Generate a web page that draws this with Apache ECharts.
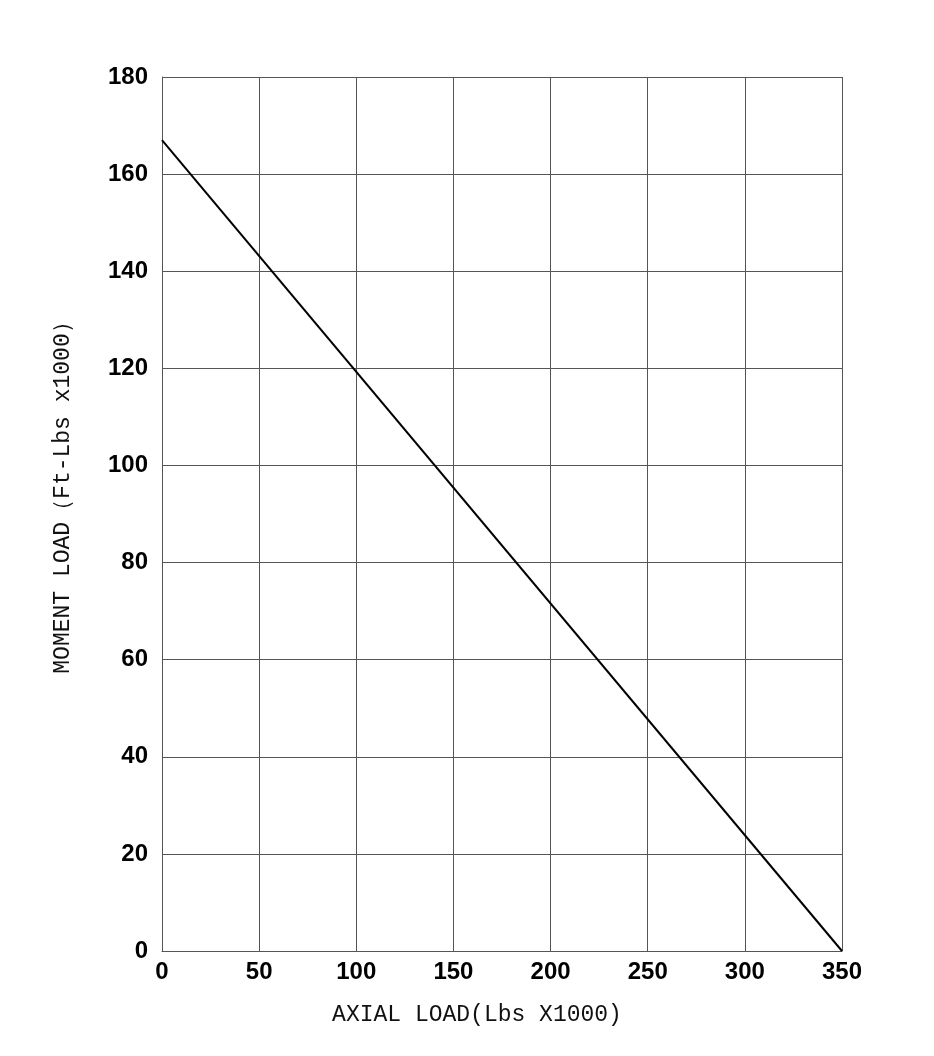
<!DOCTYPE html>
<html><head><meta charset="utf-8">
<script src="https://cdn.jsdelivr.net/npm/echarts@6/dist/echarts.min.js"></script>
<style>html,body{margin:0;padding:0;background:#fff}#c{width:934px;height:1056px}</style>
</head><body><div id="c"></div>
<script>
const xName = 'AXIAL LOAD(Lbs X1000)';
const yName = 'MOMENT LOAD（Ft-Lbs x1000）';
const xTicks = [0, 50, 100, 150, 200, 250, 300, 350];
const yTicks = [0, 20, 40, 60, 80, 100, 120, 140, 160, 180];
const lineX = [0, 350];
const lineY = [167, 0];

const chart = echarts.init(document.getElementById('c'));
const tickFont = {fontFamily: '"Liberation Sans Narrow", "Arial Narrow", "Liberation Sans", Arial, sans-serif', fontWeight: 'bold', fontSize: 24, color: '#000'};
const nameFont = {fontFamily: '"Liberation Mono", monospace', fontSize: 23, color: '#111'};
chart.setOption({
  animation: false,
  grid: {left: 162, right: 92, top: 77, bottom: 105},
  xAxis: {
    type: 'value', min: 0, max: 350, interval: 50,
    name: xName, nameLocation: 'middle', nameGap: 52,
    nameTextStyle: Object.assign({padding: [0, 50, 0, 0]}, nameFont),
    axisLine: {show: true, lineStyle: {color: '#555', width: 1}},
    axisTick: {show: false},
    splitLine: {show: true, lineStyle: {color: '#555', width: 1}},
    axisLabel: Object.assign({margin: 9}, tickFont, {
      formatter: v => xTicks.includes(v) ? String(v) : ''
    })
  },
  yAxis: {
    type: 'value', min: 0, max: 180, interval: 20,
    name: yName, nameLocation: 'middle', nameGap: 88,
    nameTextStyle: Object.assign({padding: [0, 0, 0, 44]}, nameFont),
    axisLine: {show: true, lineStyle: {color: '#555', width: 1}},
    axisTick: {show: false},
    splitLine: {show: true, lineStyle: {color: '#555', width: 1}},
    axisLabel: Object.assign({margin: 14}, tickFont, {
      formatter: v => yTicks.includes(v) ? String(v) : ''
    })
  },
  series: [{
    type: 'line',
    data: lineX.map((x, i) => [x, lineY[i]]),
    symbol: 'none',
    lineStyle: {color: '#000', width: 2}
  }]
});
</script></body></html>
